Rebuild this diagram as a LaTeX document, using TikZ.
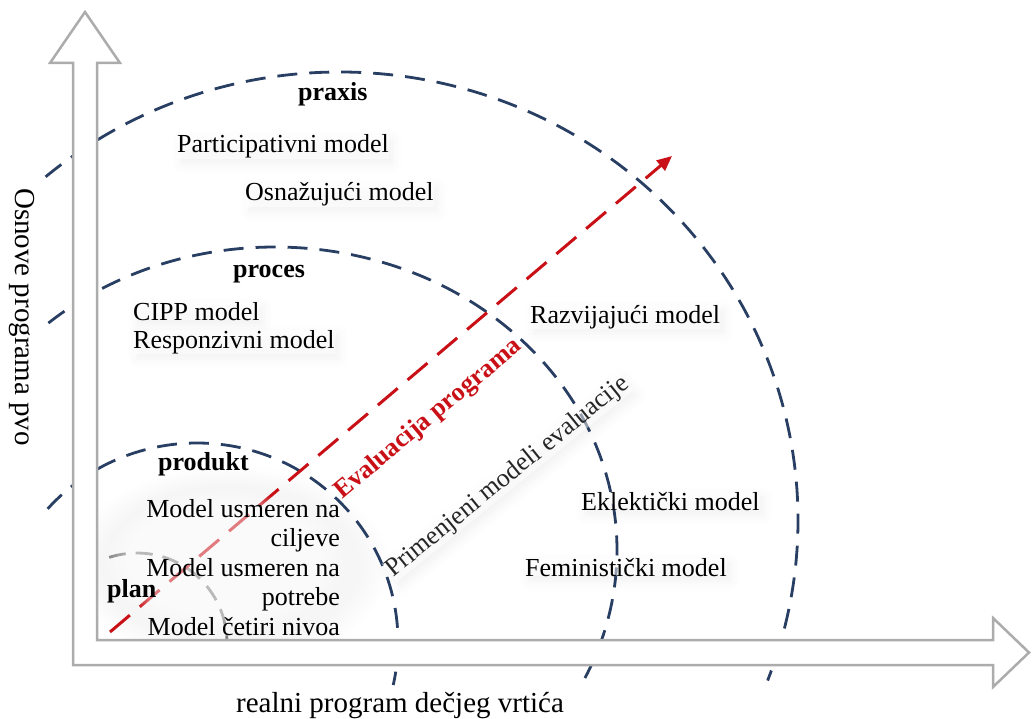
\documentclass[tikz,border=0pt]{standalone}
\usepackage{fontspec}
\setmainfont{Liberation Serif}
\usetikzlibrary{arrows.meta,shadows.blur,fadings}
\definecolor{arcblue}{RGB}{40,62,98}
\definecolor{plangray}{RGB}{128,128,128}
\definecolor{axisgray}{RGB}{172,172,172}
\definecolor{evalred}{RGB}{200,16,22}
\begin{document}
\begin{tikzpicture}[x=1pt,y=-1pt,
  ring/.style={draw=arcblue, line width=2.8pt, dash pattern=on 20pt off 12pt},
  planring/.style={draw=plangray, line width=2.8pt, dash pattern=on 17pt off 10pt},
  axisarrow/.style={draw=axisgray, fill=white, line width=2.5pt, line join=miter},
  evalarrow/.style={draw=evalred, line width=3pt, dash pattern=on 26pt off 13pt,
    -{Triangle[length=15pt,width=13pt]}},
  lbl/.style={inner sep=0pt, font=\fontsize{26}{30}\selectfont},
  blbl/.style={inner sep=0pt, font=\fontsize{26}{30}\selectfont\bfseries},
  axislbl/.style={inner sep=0pt, font=\fontsize{29}{34}\selectfont},
  soft/.style={fill=white, fill opacity=0.5, text opacity=1,
    blur shadow={shadow xshift=4pt, shadow yshift=-5pt,
      shadow blur radius=9pt, shadow opacity=10}},
]
\useasboundingbox (0,0) rectangle (1032,719);

% faint glow behind the product block
\fill[black, fill opacity=0.035, path fading=circle with fuzzy edge 20 percent]
  (230,565) ellipse [x radius=160, y radius=100];

% concentric dashed rings: praxis, proces, produkt, plan
\draw[ring] (340,520) ++(-130:458 and 448)
  arc[start angle=-130, end angle=21, x radius=458, y radius=448];
\draw[ring] (275,550) ++(-131.5:342 and 303)
  arc[start angle=-131.5, end angle=25, x radius=342, y radius=303];
\draw[ring] (197,642) ++(-138:201 and 199)
  arc[start angle=-138, end angle=12.5, x radius=201, y radius=199];
\draw[planring] (137,643) ++(-108:90 and 90)
  arc[start angle=-108, end angle=0, x radius=90, y radius=90];

% L-shaped block arrow forming both axes
\draw[axisarrow] (73,665) -- (73,63) -- (50,63) -- (85,12) -- (120,63)
  -- (97,63) -- (97,640) -- (993,640) -- (993,618) -- (1029,652.5)
  -- (993,687) -- (993,665) -- cycle;

% evaluation direction
\coordinate (evstart) at (110,632);
\coordinate (evend) at (672,156);
\draw[evalarrow] (evstart) -- (evend);

% light veil over the middle of the product block
\fill[white, fill opacity=0.45, path fading=circle with fuzzy edge 20 percent]
  (225,560) ellipse [x radius=120, y radius=70];

% ring titles
\node[blbl, anchor=base west] (praxis) at (298,101) {praxis};
\node[blbl, anchor=base west] (proces) at (233,277) {proces};
\node[blbl, anchor=base west] (produkt) at (158,470) {produkt};
\node[blbl, anchor=base west] (plan) at (107,597) {plan};

% models
\node[lbl, soft, anchor=base west] (particip) at (177,153) {Participativni model};
\node[lbl, soft, anchor=base west] (osnaz) at (245,201) {Osnažujući model};
\node[lbl, soft, anchor=base west] (cipp) at (133,320) {CIPP model};
\node[lbl, soft, anchor=base west] (respon) at (133,348) {Responzivni model};
\node[lbl, soft, anchor=base west] (razvij) at (530,323) {Razvijajući model};
\node[lbl, soft, anchor=base west] (eklekt) at (581,510) {Eklektički model};
\node[lbl, soft, anchor=base west] (femin) at (525,576) {Feministički model};

\node[lbl, anchor=base east] (cilj1) at (340,517) {Model usmeren na};
\node[lbl, anchor=base east] (cilj2) at (340,546) {ciljeve};
\node[lbl, anchor=base east] (potr1) at (340,576) {Model usmeren na};
\node[lbl, anchor=base east] (potr2) at (340,605) {potrebe};
\node[lbl, anchor=base east] (cetiri) at (340,635) {Model četiri nivoa};

% rotated captions
\node[blbl, text=evalred, rotate=40, anchor=base west] (evlabel) at (342,500) {Evaluacija programa};
\node[lbl, soft, text=black!85, rotate=39, anchor=base west] (primenjeni) at (393,578) {Primenjeni modeli evaluacije};

% axis captions
\node[axislbl, rotate=-90, anchor=base] (yaxis) at (15,317) {Osnove programa pvo};
\node[axislbl, anchor=base] (xaxis) at (400,712) {realni program dečjeg vrtića};
\end{tikzpicture}
\end{document}
